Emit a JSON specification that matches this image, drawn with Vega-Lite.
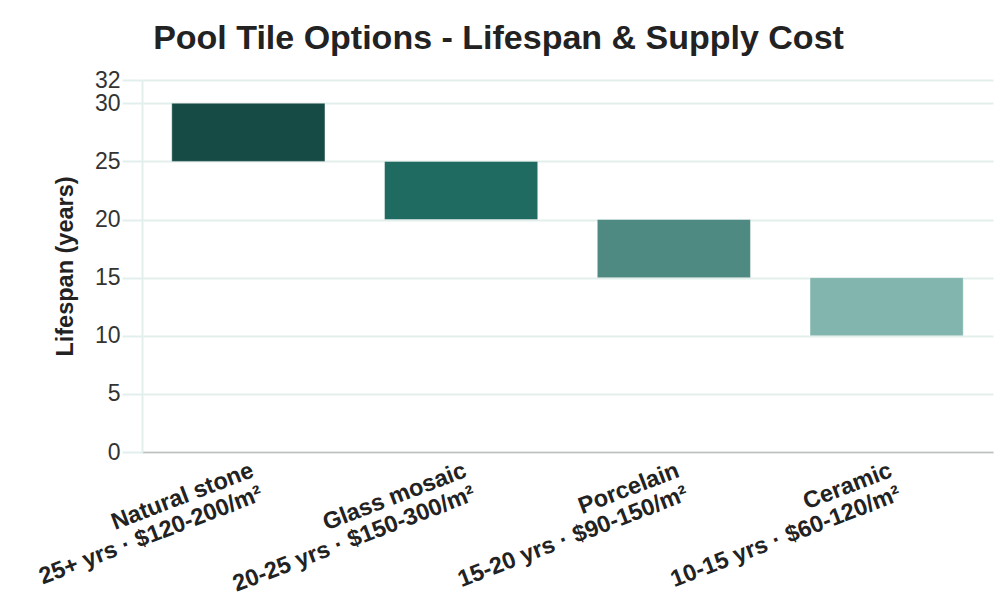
{
  "$schema": "https://vega.github.io/schema/vega-lite/v6.json",
  "autosize": {"type": "fit", "contains": "padding"},
  "width": 1000,
  "height": 600,
  "padding": {"left": 45, "right": 7, "top": 22, "bottom": 4},
  "title": {
    "text": "Pool Tile Options - Lifespan & Supply Cost",
    "font": "Liberation Sans",
    "fontSize": 34,
    "fontWeight": "bold",
    "color": "#222222",
    "anchor": "middle",
    "frame": "group",
    "dx": -69,
    "offset": 13
  },
  "data": {
    "values": [
      {"tile": "Natural stone\n25+ yrs · $120-200/m²", "low": 25, "high": 30},
      {"tile": "Glass mosaic\n20-25 yrs · $150-300/m²", "low": 20, "high": 25},
      {"tile": "Porcelain\n15-20 yrs · $90-150/m²", "low": 15, "high": 20},
      {"tile": "Ceramic\n10-15 yrs · $60-120/m²", "low": 10, "high": 15}
    ]
  },
  "mark": {"type": "bar", "stroke": "#ffffff", "strokeOpacity": 0.4, "strokeWidth": 1},
  "encoding": {
    "x": {
      "field": "tile",
      "type": "nominal",
      "sort": null,
      "scale": {"paddingInner": 0.28, "paddingOuter": 0.14},
      "axis": {
        "title": null,
        "labelExpr": "split(datum.label, '\\n')",
        "labelAngle": -21,
        "labelAlign": "right",
        "labelBaseline": "top",
        "labelFont": "Liberation Sans",
        "labelFontSize": 23.5,
        "labelFontWeight": "bold",
        "labelLineHeight": 25,
        "labelLimit": 1000,
        "labelOverlap": false,
        "labelColor": "#222222",
        "labelPadding": 6,
        "ticks": false,
        "domainColor": "#c0c0c0",
        "domainWidth": 1.5,
        "grid": false
      }
    },
    "y": {
      "field": "low",
      "type": "quantitative",
      "scale": {"domain": [0, 32], "nice": false},
      "axis": {
        "title": "Lifespan (years)",
        "titleFont": "Liberation Sans",
        "titleFontSize": 23.5,
        "titleFontWeight": "bold",
        "titleColor": "#222222",
        "titlePadding": 17,
        "values": [0, 5, 10, 15, 20, 25, 30, 32],
        "labelOverlap": false,
        "labelFont": "Liberation Sans",
        "labelFontSize": 23,
        "labelColor": "#333333",
        "labelPadding": 2,
        "tickSize": 20,
        "tickColor": "#e3efec",
        "tickWidth": 2,
        "gridColor": "#e3efec",
        "gridWidth": 2,
        "domainColor": "#e3efec",
        "domainWidth": 2
      }
    },
    "y2": {"field": "high"},
    "color": {
      "field": "tile",
      "type": "nominal",
      "sort": null,
      "legend": null,
      "scale": {"range": ["#164a45", "#1f6b61", "#4f8a82", "#82b5ae"]}
    }
  },
  "config": {"view": {"stroke": null}}
}
